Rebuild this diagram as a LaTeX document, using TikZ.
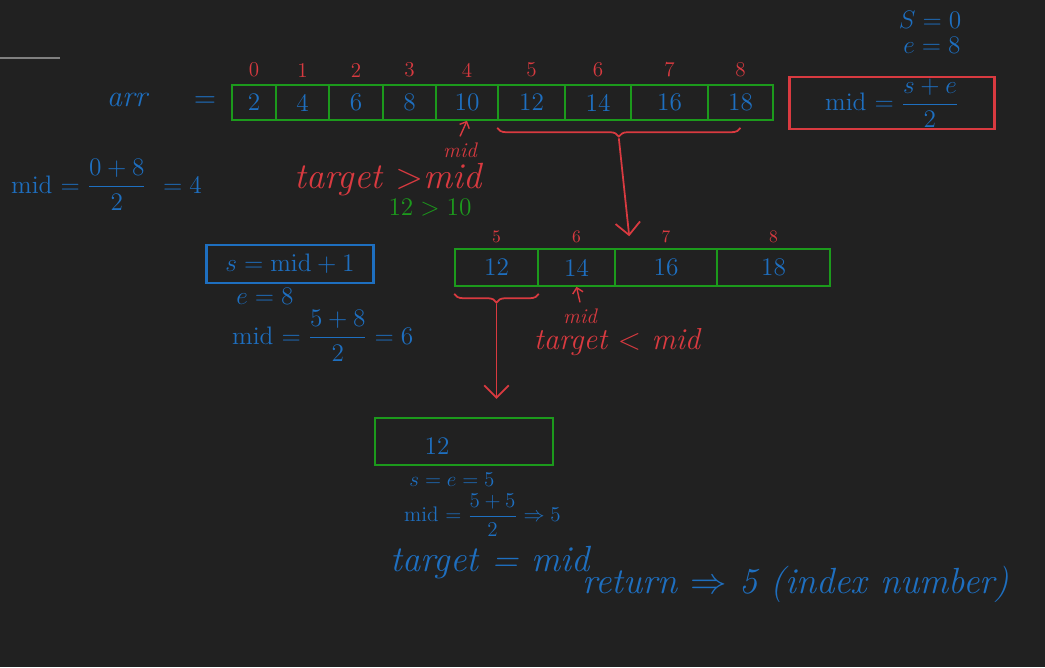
\documentclass[tikz,border=0pt]{standalone}
\usetikzlibrary{arrows.meta,decorations.pathreplacing}
\definecolor{board}{HTML}{212121}
\definecolor{ink}{HTML}{1E6FC0}
\definecolor{pen}{HTML}{D93A40}
\definecolor{grn}{HTML}{1C9A1C}
\tikzset{
  cell/.style={draw=grn, line width=0.9pt, inner sep=0pt, text=ink, font=\Large},
  idx/.style={text=pen, font=\large},
  bl/.style={text=ink, font=\Large},
  rd/.style={text=pen, font=\Large},
  brc/.style={draw=pen, line width=1pt, decorate, decoration={brace, mirror, amplitude=5pt}},
  down/.style={draw=pen, line width=1pt, -{Straight Barb[length=7pt,width=14pt]}},
}
\begin{document}
\begin{tikzpicture}[x=0.02cm, y=-0.02cm]
  \fill[board] (0,0) rectangle (1045,667);
  \useasboundingbox (0,0) rectangle (1045,667);
  \draw[gray, line width=0.6pt] (0,58) -- (60,58);

  % first array
  \node[bl, font=\LARGE\itshape] (arr) at (127,100) {arr};
  \node[bl, font=\LARGE] (eq) at (205,102) {=};
  \foreach \l/\r/\v/\i in {232/276/2/0, 276/329/4/1, 329/383/6/2, 383/436/8/3, 436/498/10/4,
                           498/565/12/5, 565/631/14/6, 631/708/16/7, 708/773/18/8} {
    \node[cell, minimum width={(\r-\l)*0.02cm}, minimum height=0.7cm] (a\i) at ({(\l+\r)/2},102.5) {\v};
    \node[idx] (ia\i) at ({(\l+\r)/2},70) {\i};
  }
  \node[bl] (s0) at (930,20) {$S = 0$};
  \node[bl] (e0) at (932,45) {$e = 8$};
  \node[draw=pen, line width=1.3pt, minimum width=4.1cm, minimum height=0.86cm, inner sep=1pt, text=ink, font=\Large]
    (rule) at (892,103) {mid $= \displaystyle\frac{s+e}{2}$};

  \node[rd, font=\large\itshape] (m1) at (460,150) {mid};
  \draw[pen, line width=0.8pt, -{Straight Barb[length=3pt]}] (m1.north) -- (a4.south);
  \node[bl, anchor=west] (f1) at (5,185) {mid $= \displaystyle\frac{0+8}{2}$ \ $= 4$};
  \node[rd, font=\huge\itshape] (cmp1) at (388,180) {target $>$mid};
  \node[text=grn, font=\Large] (num1) at (430,208) {$12 > 10$};

  \draw[brc] ([yshift=-4pt]a5.south west) -- ([yshift=-4pt]a8.south)
    coordinate[midway, yshift=-6pt] (b1);

  % second array
  \foreach \l/\r/\v/\i in {455/538/12/5, 538/615/14/6, 615/717/16/7, 717/830/18/8} {
    \node[cell, minimum width={(\r-\l)*0.02cm}, minimum height=0.74cm] (c\i) at ({(\l+\r)/2},267.5) {\v};
    \node[idx, font=\normalsize] (ic\i) at ({(\l+\r)/2},237) {\i};
  }
  \draw[down] (b1) -- ([xshift=0.3cm, yshift=0.24cm]c7.north west);

  \node[draw=ink, line width=1.3pt, minimum width=3.34cm, minimum height=0.76cm, text=ink, font=\Large]
    (upd) at (290,264) {$s = \mathrm{mid}+1$};
  \node[bl] (e1) at (265,296) {$e = 8$};
  \node[bl, anchor=west] (f2) at (226,336) {mid $= \displaystyle\frac{5+8}{2} = 6$};

  \node[rd, font=\large\itshape] (m2) at (580,316) {mid};
  \draw[pen, line width=0.8pt, -{Straight Barb[length=3pt]}] (m2.north) -- (c6.south);
  \node[rd, font=\LARGE\itshape] (cmp2) at (617,342) {target $<$ mid};

  \draw[brc] ([yshift=-4pt]c5.south west) -- ([yshift=-4pt]c5.south east)
    coordinate[midway, yshift=-6pt] (b2);

  % last step
  \node[cell, line width=1.3pt, minimum width=3.56cm, minimum height=0.94cm] (fin) at (464,441.5) {};
  \node[bl] (v5) at (437,446) {12};
  \draw[down] (b2) -- ([yshift=0.36cm]b2 |- fin.north);

  \node[bl, font=\large] (se) at (452,480) {$s = e = 5$};
  \node[bl, font=\large, anchor=west] (f3) at (398,515) {mid $= \displaystyle\frac{5+5}{2} \Rightarrow 5$};
  \node[bl, font=\huge\itshape] (eqt) at (490,563) {target = mid};
  \node[bl, font=\huge\itshape, anchor=west] (ret) at (576,584) {return $\Rightarrow$ 5 (index number)};
\end{tikzpicture}
\end{document}
